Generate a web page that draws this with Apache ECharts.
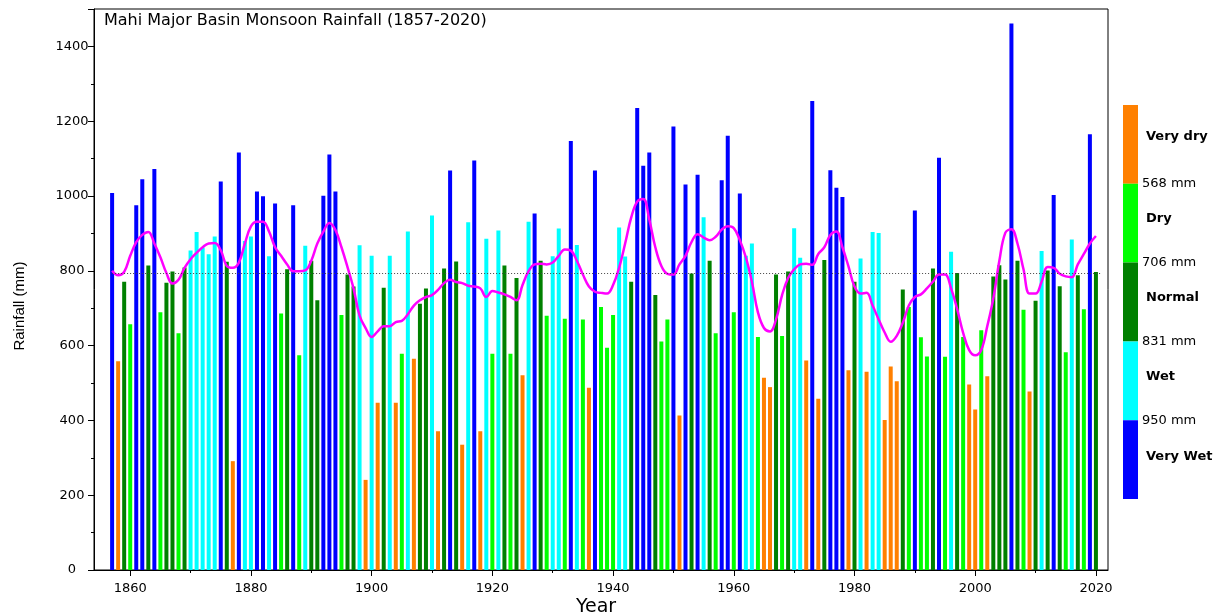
<!DOCTYPE html>
<html><head><meta charset="utf-8">
<script src="https://cdn.jsdelivr.net/npm/echarts@6/dist/echarts.min.js"></script>
<style>html,body{margin:0;padding:0;background:#fff}#c{width:1228px;height:615px}</style>
</head><body><div id="c"></div>
<script>
// ---------------- data ----------------
const firstYear = 1857;
const rainfall = [
  1008, 558, 771,
  657, 975, 1045, 814, 1072, 689, 768, 798, 633, 809,
  854, 904, 862, 844, 892, 1039, 824, 291, 1116, 880,
  892, 1012, 999, 839, 980, 686, 804, 975, 574, 867,
  827, 721, 1001, 1111, 1012, 682, 790, 758, 868, 241,
  840, 447, 755, 840, 447, 578, 905, 565, 712, 753,
  948, 371, 806, 1068, 825, 335, 930, 1095, 371, 886,
  578, 908, 814, 578, 781, 521, 931, 953, 827, 680,
  839, 913, 672, 1147, 869, 670, 487, 1068, 703, 594,
  682, 916, 838, 771, 1235, 1081, 1116, 735, 611, 670,
  1186, 413, 1031, 793, 1057, 943, 827, 633, 1042, 1161,
  689, 1007, 840, 873, 623, 514, 489, 790, 626, 798,
  914, 835, 560, 1254, 458, 829, 1069, 1022, 997, 534,
  771, 833, 530, 904, 901, 401, 544, 505, 750, 703,
  961, 622, 571, 806, 1102, 570, 851, 794, 623, 496,
  429, 641, 518, 785, 815, 777, 1461, 827, 696, 477,
  720, 853, 801, 1003, 759, 582, 884, 788, 697, 1165,
  797
];
const smoothed = [
  800, 788, 797,
  840, 877, 896, 904, 873, 836, 794, 766, 776, 808,
  831, 848, 863, 873, 874, 855, 813, 808, 822, 873,
  919, 931, 931, 905, 863, 840, 817, 799, 799, 801,
  827, 873, 905, 928, 909, 863, 810, 753, 680, 647,
  623, 638, 652, 652, 663, 666, 684, 707, 721, 730,
  735, 749, 767, 776, 770, 767, 760, 758, 753, 730,
  746, 742, 737, 730, 721, 762, 799, 817, 819, 817,
  822, 840, 857, 854, 827, 790, 758, 744, 741, 739,
  762, 808, 873, 942, 985, 992, 937, 863, 813, 792,
  790, 817, 840, 877, 898, 889, 882, 891, 910, 919,
  914, 882, 836, 771, 689, 647, 638, 670, 735, 781,
  804, 817, 819, 816, 845, 863, 896, 905, 863, 812,
  758, 739, 741, 707, 670, 635, 610, 626, 661, 707,
  730, 737, 753, 771, 790, 790, 753, 698, 634, 588,
  574, 588, 652, 726, 827, 902, 911, 873, 804, 739,
  739, 771, 810, 808, 792, 785, 783, 817, 845, 873,
  893
];
const meanRainfall = 793;
const meanLineYears = ['1857', '2021'];
const axisStartYear = 1854, axisEndYear = 2022;
const classThresholds = [568, 706, 831, 950];
const classNames = ['Very dry', 'Dry', 'Normal', 'Wet', 'Very Wet'];
const classColors = ['#FF8000', '#00FF00', '#008000', '#00FFFF', '#0000FF'];
const titleText = 'Mahi Major Basin Monsoon Rainfall (1857-2020)';

// ---------------- build ----------------
const FONT = "'DejaVu Sans', sans-serif";
const axisYears = [];
for (let y = axisStartYear; y <= axisEndYear; y++) axisYears.push(String(y));
const pick = arr => axisYears.map(y => {
  const i = +y - firstYear;
  return (i >= 0 && i < arr.length) ? arr[i] : '-';
});
const barData = pick(rainfall);
const lineData = pick(smoothed);
function classOf(v) {
  let k = 0;
  while (k < classThresholds.length && v >= classThresholds[k]) k++;
  return k;
}

// legend (colour bar) graphics
const legX = 1123, legTop = 105, legW = 15, segH = 78.8;
const graphics = [];
classColors.forEach((c, i) => {
  graphics.push({type: 'rect', silent: true,
    shape: {x: legX, y: legTop + i * segH, width: legW, height: segH},
    style: {fill: c}});
  graphics.push({type: 'text', silent: true, x: 1146, y: legTop + i * segH + (i === 4 ? 33 : 32) + (i === 0 ? 0 : 3),
    style: {text: classNames[i], fill: '#000', font: 'bold 13px ' + FONT, verticalAlign: 'middle', align: 'left'}});
});
classThresholds.forEach((t, i) => {
  graphics.push({type: 'text', silent: true, x: 1142, y: legTop + (i + 1) * segH,
    style: {text: t + ' mm', fill: '#000', font: '13px ' + FONT, verticalAlign: 'middle', align: 'left'}});
});
graphics.push({type: 'text', silent: true, x: 20, y: 306, rotation: Math.PI / 2,
  style: {text: 'Rainfall (mm)', fill: '#000', font: "15px 'Liberation Sans', Arial, sans-serif", align: 'center', verticalAlign: 'middle'}});
graphics.push({type: 'text', silent: true, x: 596, y: 607,
  style: {text: 'Year', fill: '#000', font: '19px ' + FONT, align: 'center', verticalAlign: 'middle'}});

const chart = echarts.init(document.getElementById('c'));
chart.setOption({
  animation: false,
  backgroundColor: '#fff',
  title: {text: titleText, left: 104, top: 13, padding: 0,
    textStyle: {fontFamily: FONT, fontSize: 16, fontWeight: 'normal', color: '#000'}},
  grid: {left: 94, top: 9, width: 1014, height: 561, show: true, borderColor: '#000', borderWidth: 1},
  xAxis: [{
    type: 'category', data: axisYears, boundaryGap: false, position: 'bottom',
    axisLine: {lineStyle: {color: '#000', width: 1}},
    axisTick: {interval: (i, v) => (+v) % 20 === 0, length: 6, lineStyle: {color: '#000'}},
    axisLabel: {interval: (i, v) => (+v) % 20 === 0, color: '#000', fontSize: 13, fontFamily: FONT, margin: 12},
    splitLine: {show: false}
  }, {
    type: 'category', data: axisYears, boundaryGap: false, position: 'bottom',
    axisLine: {show: false},
    axisTick: {interval: (i, v) => (+v) % 10 === 0 && (+v) % 20 !== 0, length: 3, lineStyle: {color: '#000'}},
    axisLabel: {show: false},
    splitLine: {show: false}
  }],
  yAxis: {
    type: 'value', min: 0, max: 1500, interval: 200,
    axisLine: {show: true, lineStyle: {color: '#000', width: 1}},
    axisTick: {show: true, length: 6, lineStyle: {color: '#000'}},
    minorTick: {show: true, splitNumber: 2, length: 3, lineStyle: {color: '#000'}},
    axisLabel: {showMaxLabel: false, align: 'center', margin: 22, color: '#000', fontSize: 13, fontFamily: FONT,
      formatter: v => String(v)},
    splitLine: {show: false}
  },
  series: [{
    type: 'bar', data: barData, barWidth: 4, z: 2,
    itemStyle: {color: p => classColors[classOf(p.value)]},
    markLine: {
      silent: true, symbol: ['none', 'none'], label: {show: false},
      lineStyle: {color: '#444', type: [1, 2], width: 1},
      data: [[{coord: [meanLineYears[0], meanRainfall]}, {coord: [meanLineYears[1], meanRainfall]}]]
    }
  }, {
    type: 'line', data: lineData, smooth: 0.4, symbol: 'none', z: 3,
    lineStyle: {color: '#FF00FF', width: 2.5}
  }],
  graphic: graphics
});
</script></body></html>
